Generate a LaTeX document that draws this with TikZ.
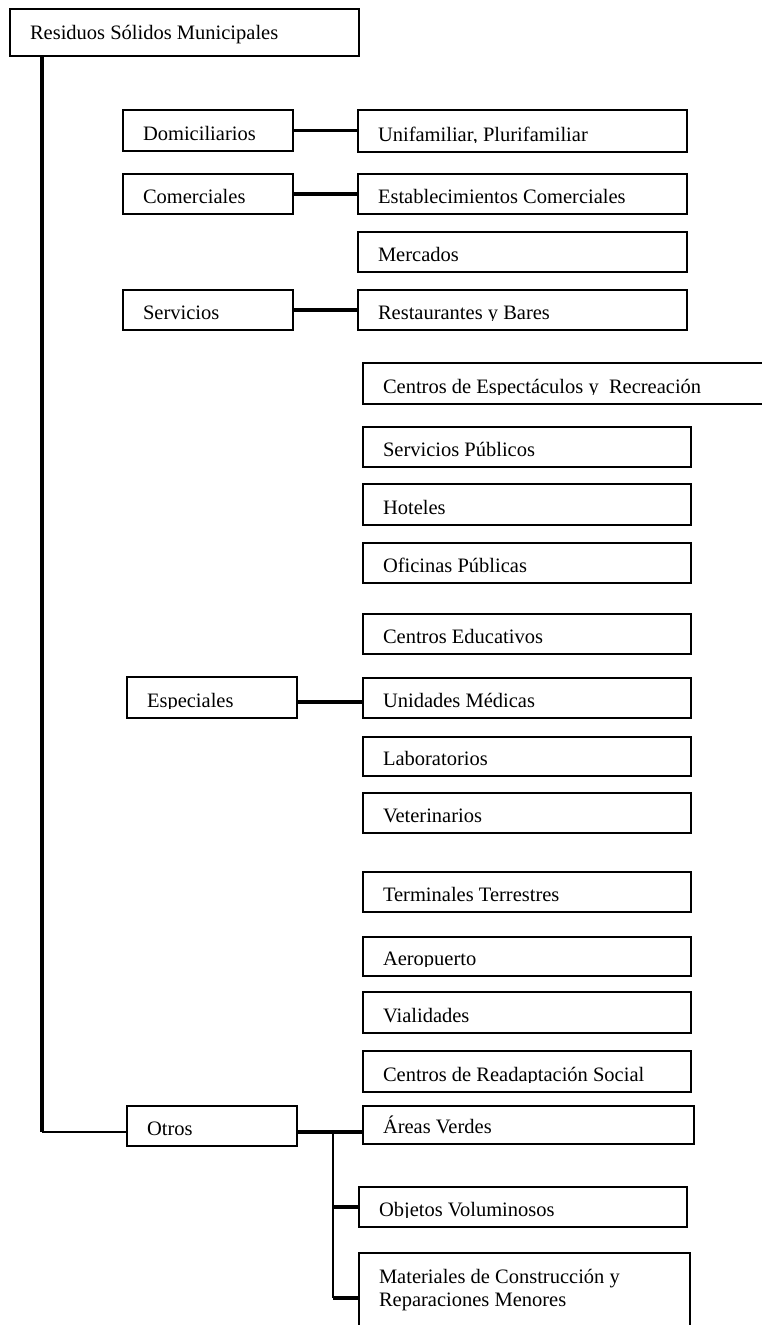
\documentclass[tikz,border=0pt]{standalone}
\usepackage{fontspec}
\setmainfont{Liberation Serif}

% \caja{name}{left}{top}{right}{bottom}{text}: framed box whose one-line text
% sits near the bottom and is clipped just under its baseline
\newcommand\caja[6]{%
  \begin{scope}
    \clip (#2,#3) rectangle (#4,{#5-9.5});
    \node[rotulo] (#1-t) at ({#2+20},{#5-11}) {#6};
  \end{scope}
  \node[marco, minimum width={(#4-#2)*1pt}, minimum height={(#5-#3)*1pt}] (#1) at (#2,#3) {};
}

\begin{document}
\begin{tikzpicture}[x=1pt,y=-1pt,
  marco/.style={draw, line width=1.5pt, rectangle, inner sep=0pt, outer sep=0pt, anchor=north west},
  rotulo/.style={anchor=base west, inner sep=0pt, outer sep=0pt, font=\fontsize{20.5}{24}\selectfont},
  grueso/.style={line width=3.5pt},
  fino/.style={line width=1.3pt}]
\useasboundingbox (0,0) rectangle (761,1325);

% root
\node[marco, minimum width=349pt, minimum height=47pt] (raiz) at (10,9) {};
\node[rotulo] (raiz-t) at (30,39) {Residuos Sólidos Municipales};

% first level
\caja{dom}{123}{110}{293}{151}{Domiciliarios}
\caja{com}{123}{174}{293}{214}{Comerciales}
\caja{ser}{123}{290}{293}{330}{Servicios}
\caja{esp}{127}{677}{297}{718}{Especiales}
\caja{otr}{127}{1106}{297}{1146}{Otros}

% second level, upper column
\caja{uni}{358}{110}{687}{152}{Unifamiliar, Plurifamiliar}
\caja{est}{358}{174}{687}{214}{Establecimientos Comerciales}
\caja{mer}{358}{232}{687}{272}{Mercados}
\caja{res}{358}{290}{687}{330}{Restaurantes y Bares}

% second level, middle column
\caja{cer}{363}{363}{775}{404}{Centros de Espectáculos y\ \ Recreación}
\caja{spu}{363}{427}{691}{467}{Servicios Públicos}
\caja{hot}{363}{484}{691}{525}{Hoteles}
\caja{ofi}{363}{543}{691}{583}{Oficinas Públicas}
\caja{ced}{363}{614}{691}{654}{Centros Educativos}
\caja{med}{363}{678}{691}{718}{Unidades Médicas}
\caja{lab}{363}{737}{691}{776}{Laboratorios}
\caja{vet}{363}{793}{691}{833}{Veterinarios}
\caja{ter}{363}{872}{691}{912}{Terminales Terrestres}
\caja{aer}{363}{937}{691}{976}{Aeropuerto}
\caja{via}{363}{992}{691}{1033}{Vialidades}
\caja{cra}{363}{1051}{691}{1092}{Centros de Readaptación Social}

% second level, lower group
\caja{are}{363}{1106}{694}{1144}{Áreas Verdes}
\caja{obj}{359}{1187}{687}{1227}{Objetos Voluminosos}
\node[marco, minimum width=331pt, minimum height=90pt] (mat) at (359,1253) {};
\node[rotulo] (mat-t1) at (379,1283) {Materiales de Construcción y};
\node[rotulo] (mat-t2) at (379,1306) {Reparaciones Menores};

% trunk from the root down to "Otros"
\coordinate (codo) at (42,1132);
\draw[grueso] (raiz.south -| codo) -- (codo);
\draw[fino] (codo) -- (otr.west |- codo);

% first level to second level
\draw[grueso] (dom.east) -- (uni.west |- dom.east);
\draw[grueso] (com.east) -- (est.west |- com.east);
\draw[grueso] (ser.east) -- (res.west |- ser.east);
\coordinate (e1) at ([yshift=-4.5pt]esp.east);
\draw[grueso] (e1) -- (med.west |- e1);

% branch of "Otros"
\coordinate (ram) at (333,1132);
\coordinate (ramfin) at (333,1298);
\draw[grueso] (otr.east |- ram) -- (are.west |- ram);
\draw[fino] (ram) -- (ramfin);
\draw[grueso] (ram |- obj.west) -- (obj.west);
\draw[grueso] (ramfin) -- (mat.west |- ramfin);
\end{tikzpicture}
\end{document}
